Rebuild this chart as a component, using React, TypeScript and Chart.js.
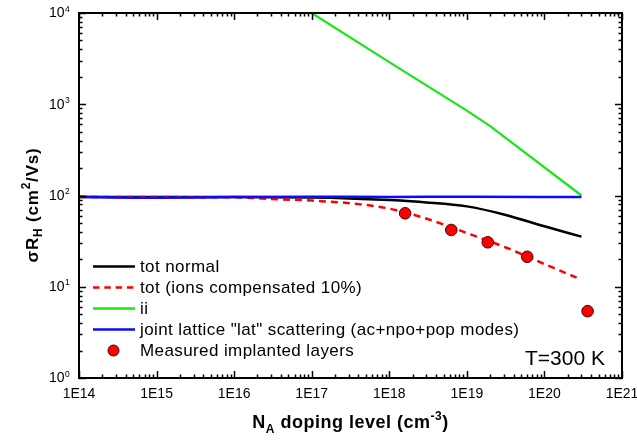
import { useEffect, useRef } from 'react';
import { Chart, registerables } from 'chart.js';

Chart.register(...registerables);

const FONT = '"Liberation Sans", Arial, Helvetica, sans-serif';

// Doping level N_A (cm^-3) and Hall mobility values (cm^2/Vs)
const totNormalX = [1e14, 1e15, 1e16, 1e17, 3e17, 1e18, 3e18, 1e19, 3e19, 1e20, 3e20];
const totNormalY = [96, 96, 96, 95, 93, 89, 84, 76, 62, 46, 35.4];

const totCompX = [1e14, 1e15, 1e16, 3.6e16, 1e17, 7.6e17, 2.5e18, 1e19, 3.3e19, 1.07e20, 2.6e20];
const totCompY = [96, 96, 95.5, 91, 88, 75, 58.6, 38.8, 26.6, 17.3, 12.6];

const iiX = [1e17, 1e18, 1e19, 2e19, 3e20];
const iiY = [10000, 2900, 850, 575, 100];

const latX = [1e14, 1e15, 3e15, 1e16, 1e17, 1e18, 1e19, 1e20, 3e20];
const latY = [97, 94.5, 95, 96.5, 97, 96.5, 97, 96.5, 96];

const measuredX = [1.6e18, 6.3e18, 1.86e19, 6.0e19, 3.6e20];
const measuredY = [63.8, 41.9, 30.7, 21.3, 5.4];

const xTickValues = [1e14, 1e15, 1e16, 1e17, 1e18, 1e19, 1e20, 1e21];
const xTickLabels = ['1E14', '1E15', '1E16', '1E17', '1E18', '1E19', '1E20', '1E21'];
const yTickExponents = [0, 1, 2, 3, 4];

const legendLabels = [
  'tot normal',
  'tot (ions compensated 10%)',
  'ii',
  'joint lattice "lat" scattering (ac+npo+pop modes)',
  'Measured implanted layers',
];

const temperatureLabel = 'T=300 K';

const BLACK = '#000000';
const RED = '#ff0000';
const GREEN = '#19e619';
const BLUE = '#0a0aff';

const pts = (xs: number[], ys: number[]) => xs.map((x, i) => ({ x, y: ys[i] }));

type Part = { t: string; size: number; bold?: boolean; dy?: number };

function fontOf(p: Part) {
  return `${p.bold ? 'bold ' : ''}${p.size}px ${FONT}`;
}

// Draws a run of text pieces (with sub/superscripts) centred on x, baseline y
function drawRich(ctx: CanvasRenderingContext2D, parts: Part[], cx: number, y: number, spacing: string) {
  ctx.save();
  (ctx as any).letterSpacing = spacing;
  ctx.textAlign = 'left';
  ctx.textBaseline = 'alphabetic';
  let total = 0;
  const widths = parts.map((p) => {
    ctx.font = fontOf(p);
    const w = ctx.measureText(p.t).width;
    total += w;
    return w;
  });
  let x = cx - total / 2;
  parts.forEach((p, i) => {
    ctx.font = fontOf(p);
    ctx.fillText(p.t, x, y + (p.dy || 0));
    x += widths[i];
  });
  ctx.restore();
}

const framePlugin = {
  id: 'frameAndLabels',
  afterDraw(chart: any) {
    const ctx: CanvasRenderingContext2D = chart.ctx;
    const { left, right, top, bottom } = chart.chartArea;
    const xs = chart.scales.x;
    const ys = chart.scales.y;
    ctx.save();
    ctx.strokeStyle = '#000';
    ctx.fillStyle = '#000';

    // frame
    ctx.lineWidth = 2;
    ctx.strokeRect(left, top, right - left, bottom - top);

    // inward ticks on all four sides
    ctx.lineWidth = 1.5;
    const major = 7;
    const minor = 3.5;
    ctx.beginPath();
    for (let d = 14; d <= 21; d++) {
      for (let k = 1; k <= 9; k++) {
        const v = k * Math.pow(10, d);
        if (v > 1e21 * 1.0001) break;
        const px = Math.round(xs.getPixelForValue(v)) + 0.5;
        const len = k === 1 ? major : minor;
        ctx.moveTo(px, bottom);
        ctx.lineTo(px, bottom - len);
        ctx.moveTo(px, top);
        ctx.lineTo(px, top + len);
      }
    }
    for (let d = 0; d <= 4; d++) {
      for (let k = 1; k <= 9; k++) {
        const v = k * Math.pow(10, d);
        if (v > 1e4 * 1.0001) break;
        const py = Math.round(ys.getPixelForValue(v)) + 0.5;
        const len = k === 1 ? major : minor;
        ctx.moveTo(left, py);
        ctx.lineTo(left + len, py);
        ctx.moveTo(right, py);
        ctx.lineTo(right - len, py);
      }
    }
    ctx.stroke();

    // x tick labels
    ctx.font = `14px ${FONT}`;
    ctx.textAlign = 'center';
    ctx.textBaseline = 'alphabetic';
    xTickValues.forEach((v, i) => {
      ctx.fillText(xTickLabels[i], xs.getPixelForValue(v), 398);
    });

    // y tick labels as powers of ten
    yTickExponents.forEach((e) => {
      const py = ys.getPixelForValue(Math.pow(10, e));
      ctx.font = `14px ${FONT}`;
      ctx.textAlign = 'right';
      ctx.textBaseline = 'middle';
      ctx.fillText('10', 64.5, py + 0.5);
      ctx.font = `8.5px ${FONT}`;
      ctx.textAlign = 'left';
      ctx.textBaseline = 'alphabetic';
      ctx.fillText(String(e), 65, py - 1.5);
    });

    // x axis title
    drawRich(
      ctx,
      [
        { t: 'N', size: 18, bold: true },
        { t: 'A', size: 12, bold: true, dy: 5 },
        { t: ' doping level (cm', size: 18, bold: true },
        { t: '-3', size: 12, bold: true, dy: -8 },
        { t: ')', size: 18, bold: true },
      ],
      (left + right) / 2,
      428,
      '0.5px'
    );

    // y axis title, rotated
    ctx.save();
    ctx.translate(37.5, 205);
    ctx.rotate(-Math.PI / 2);
    drawRich(
      ctx,
      [
        { t: 'σR', size: 17, bold: true },
        { t: 'H', size: 12, bold: true, dy: 4 },
        { t: ' (cm', size: 17, bold: true },
        { t: '2', size: 12, bold: true, dy: -8 },
        { t: '/Vs)', size: 17, bold: true },
      ],
      0,
      0,
      '0.8px'
    );
    ctx.restore();

    // legend
    const rows = [266.5, 287.5, 308.5, 329.5, 350.5];
    const styles = [
      { color: BLACK, dash: [] as number[] },
      { color: RED, dash: [6.5, 4.8] },
      { color: GREEN, dash: [] as number[] },
      { color: BLUE, dash: [] as number[] },
    ];
    styles.forEach((s, i) => {
      ctx.beginPath();
      ctx.setLineDash(s.dash);
      ctx.strokeStyle = s.color;
      ctx.lineWidth = 2.5;
      ctx.moveTo(93, rows[i]);
      ctx.lineTo(135, rows[i]);
      ctx.stroke();
    });
    ctx.setLineDash([]);
    ctx.beginPath();
    ctx.arc(113.5, rows[4], 5.5, 0, Math.PI * 2);
    ctx.fillStyle = RED;
    ctx.fill();
    ctx.lineWidth = 1;
    ctx.strokeStyle = '#4a0000';
    ctx.stroke();

    ctx.fillStyle = '#000';
    ctx.font = `17px ${FONT}`;
    (ctx as any).letterSpacing = '0.4px';
    ctx.textAlign = 'left';
    ctx.textBaseline = 'middle';
    legendLabels.forEach((label, i) => {
      ctx.fillText(label, 140, rows[i] + 0.5);
    });

    // temperature annotation
    ctx.font = `21px ${FONT}`;
    (ctx as any).letterSpacing = '0px';
    ctx.textBaseline = 'alphabetic';
    ctx.fillText(temperatureLabel, 525, 365);

    ctx.restore();
  },
};

export default function App() {
  const canvasRef = useRef<HTMLCanvasElement | null>(null);

  useEffect(() => {
    const canvas = canvasRef.current;
    if (!canvas) return;
    const chart = new Chart(canvas, {
      type: 'line',
      data: {
        datasets: [
          {
            label: legendLabels[4],
            data: pts(measuredX, measuredY),
            showLine: false,
            pointRadius: 5.8,
            pointBackgroundColor: RED,
            pointBorderColor: '#4a0000',
            pointBorderWidth: 1,
            order: 0,
          },
          {
            label: legendLabels[3],
            data: pts(latX, latY),
            borderColor: BLUE,
            borderWidth: 2.5,
            pointRadius: 0,
            cubicInterpolationMode: 'monotone',
            order: 1,
          },
          {
            label: legendLabels[1],
            data: pts(totCompX, totCompY),
            borderColor: RED,
            borderWidth: 2.5,
            borderDash: [7, 5],
            pointRadius: 0,
            cubicInterpolationMode: 'monotone',
            order: 2,
          },
          {
            label: legendLabels[0],
            data: pts(totNormalX, totNormalY),
            borderColor: BLACK,
            borderWidth: 2.5,
            pointRadius: 0,
            cubicInterpolationMode: 'monotone',
            order: 3,
          },
          {
            label: legendLabels[2],
            data: pts(iiX, iiY),
            borderColor: GREEN,
            borderWidth: 2.2,
            pointRadius: 0,
            order: 4,
          },
        ],
      },
      options: {
        animation: false,
        responsive: false,
        devicePixelRatio: 1,
        layout: { padding: { left: 79, right: 15, top: 13, bottom: 65 } },
        scales: {
          x: { type: 'logarithmic', min: 1e14, max: 1e21, display: false },
          y: { type: 'logarithmic', min: 1, max: 1e4, display: false },
        },
        plugins: {
          legend: { display: false },
          tooltip: { enabled: false },
        },
      },
      plugins: [framePlugin],
    });
    return () => chart.destroy();
  }, []);

  return (
    <div style={{ position: 'fixed', left: 0, top: 0, width: 637, height: 443, background: '#fff' }}>
      <canvas ref={canvasRef} width={637} height={443} />
    </div>
  );
}
